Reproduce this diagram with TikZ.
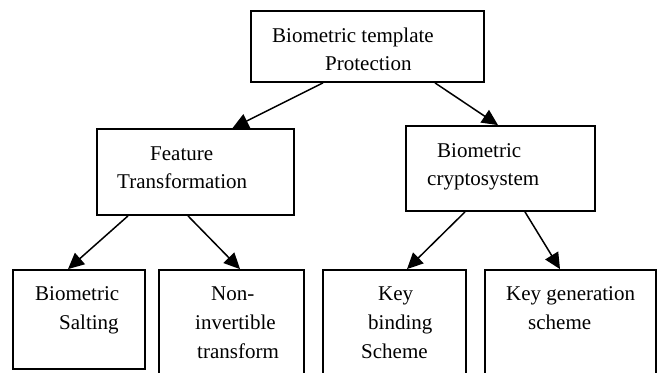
\documentclass[tikz,border=0pt]{standalone}
\usepackage{fontspec}
\setmainfont{Liberation Serif}
\usetikzlibrary{arrows.meta,calc}
\begin{document}
\begin{tikzpicture}[x=1pt,y=-1pt,
  boxnode/.style={draw,line width=1.8pt,inner sep=0pt,rectangle},
  lbl/.style={anchor=base west,inner sep=0pt,font=\fontsize{21}{27}\selectfont},
  arr/.style={line width=1.5pt,-{Triangle[length=16pt,width=15pt]}}]
\useasboundingbox (0,0) rectangle (658,372);
\clip (0,0) rectangle (658,372);
\fill[white] (0,0) rectangle (658,372);
% boxes
\node[boxnode,minimum width=233pt,minimum height=71pt] (top) at (367.5,46.5) {};
\node[boxnode,minimum width=197pt,minimum height=86pt] (feat) at (195.5,172) {};
\node[boxnode,minimum width=189pt,minimum height=85pt] (cry) at (500.5,168.5) {};
\node[boxnode,minimum width=132pt,minimum height=99pt] (salt) at (79,319.5) {};
\node[boxnode,minimum width=145pt,minimum height=120pt] (non) at (231.5,330) {};
\node[boxnode,minimum width=143pt,minimum height=120pt] (keyb) at (394.5,330) {};
\node[boxnode,minimum width=171pt,minimum height=120pt] (keyg) at (570.5,330) {};
% labels
\node[lbl] (t1) at (272,42) {Biometric template};
\node[lbl] (t2) at (325,70) {Protection};
\node[lbl] (f1) at (150,160) {Feature};
\node[lbl] (f2) at (117,188) {Transformation};
\node[lbl] (c1) at (437,157) {Biometric};
\node[lbl] (c2) at (427,185) {cryptosystem};
\node[lbl] (s1) at (35,300) {Biometric};
\node[lbl] (s2) at (59,329) {Salting};
\node[lbl] (n1) at (211,300) {Non-};
\node[lbl] (n2) at (195,329) {invertible};
\node[lbl] (n3) at (197,358) {transform};
\node[lbl] (b1) at (378,300) {Key};
\node[lbl] (b2) at (368,329) {binding};
\node[lbl] (b3) at (361,358) {Scheme};
\node[lbl] (g1) at (506,300) {Key generation};
\node[lbl] (g2) at (528,329) {scheme};
% connectors
\draw[arr] ([xshift=-44.5pt]top.south) -- ([xshift=37pt]feat.north);
\draw[arr] ([xshift=67.5pt]top.south) -- ([xshift=-2.5pt]cry.north);
\draw[arr] ([xshift=-67.5pt]feat.south) -- ([xshift=-11pt]salt.north);
\draw[arr] ([xshift=-7.5pt]feat.south) -- ([xshift=8.5pt]non.north);
\draw[arr] ([xshift=-35.5pt]cry.south) -- ([xshift=12.5pt]keyb.north);
\draw[arr] ([xshift=24.5pt]cry.south) -- ([xshift=-10.5pt]keyg.north);
\end{tikzpicture}
\end{document}
